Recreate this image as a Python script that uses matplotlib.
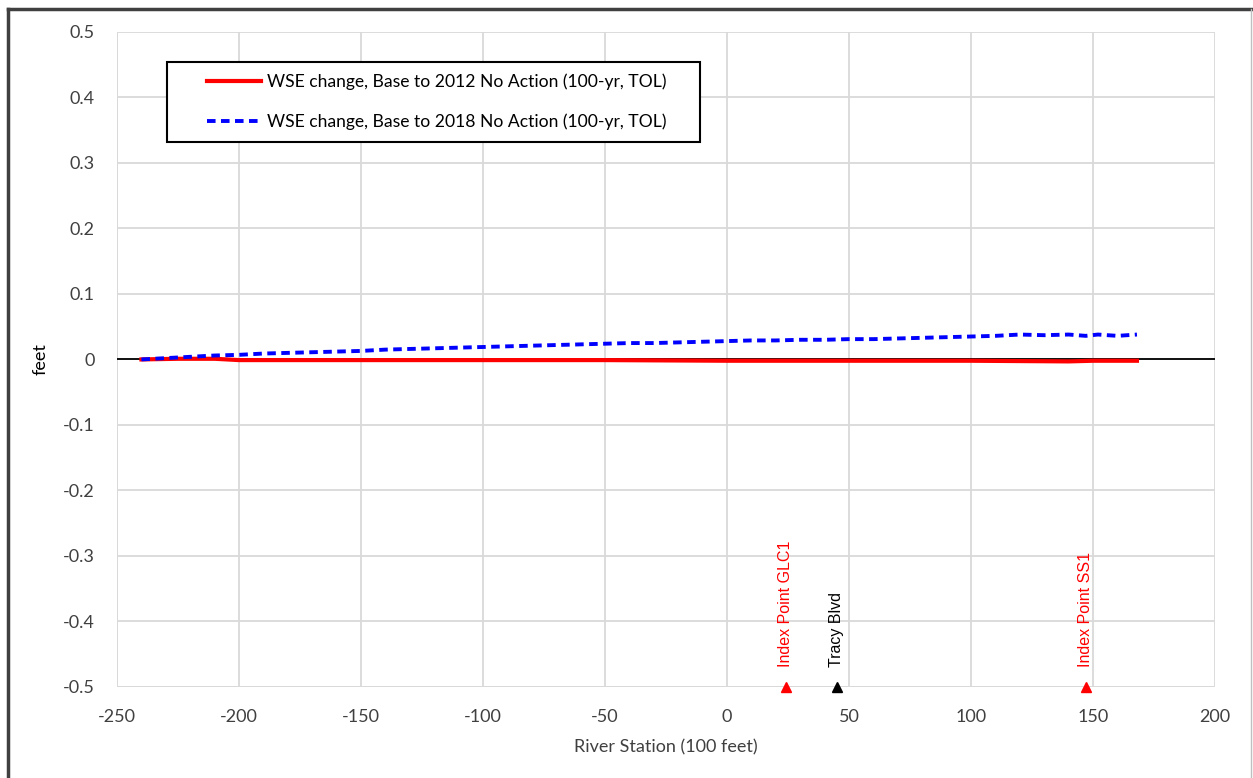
import matplotlib
matplotlib.use("Agg")
import matplotlib.pyplot as plt
from matplotlib.lines import Line2D
from matplotlib.patches import Rectangle

plt.rcParams['font.family'] = ['Lato', 'DejaVu Sans']
plt.rcParams['axes.unicode_minus'] = False

# River station (100 ft) and water surface elevation changes (ft)
station_2018 = [-240, -230, -220, -210, -200, -190, -180, -170, -160, -150, -140, -130,
                -120, -110, -100, -90, -80, -70, -60, -50, -40, -30, -20, -10, 0,
                10, 20, 30, 40, 50, 60, 70, 80, 90, 100, 110, 120, 130, 140, 147,
                152, 160, 168]
wse_2018 = [0.000, 0.002, 0.004, 0.006, 0.007, 0.009, 0.010, 0.011, 0.012, 0.013, 0.015, 0.016,
            0.017, 0.018, 0.019, 0.020, 0.021, 0.022, 0.023, 0.024, 0.025, 0.025, 0.026, 0.027, 0.028,
            0.029, 0.029, 0.030, 0.030, 0.031, 0.031, 0.032, 0.033, 0.034, 0.035, 0.036, 0.038,
            0.037, 0.038, 0.036, 0.038, 0.036, 0.038]

station_2012 = [-240, -225, -210, -200, -150, -100, -50, 0, 50, 100, 140, 150, 168]
wse_2012 = [0.000, 0.001, 0.001, -0.001, -0.001, -0.001, -0.001, -0.002, -0.002, -0.002,
            -0.003, -0.002, -0.002]

# Reference locations along the reach
marker_names = ["Index Point GLC1", "Tracy Blvd", "Index Point SS1"]
marker_station = [24, 45, 147]
marker_colors = ["red", "black", "red"]

label_2012 = "WSE change, Base to 2012 No Action (100-yr, TOL)"
label_2018 = "WSE change, Base to 2018 No Action (100-yr, TOL)"

fig = plt.figure(figsize=(12.53, 7.78), dpi=100)
ax = fig.add_axes([0.0934, 0.117, 0.8763, 0.842])

ax.set_xlim(-250, 200)
ax.set_ylim(-0.5, 0.5)
ax.set_xticks(range(-250, 201, 50))
ax.set_yticks([i / 10 for i in range(-5, 6)])
ax.set_yticklabels(["-0.5", "-0.4", "-0.3", "-0.2", "-0.1", "0", "0.1", "0.2", "0.3", "0.4", "0.5"])
ax.grid(True, color="#d9d9d9", linewidth=1.3)
ax.set_axisbelow(True)
for s in ax.spines.values():
    s.set_visible(False)
ax.tick_params(length=0, labelsize=13, colors="#404040")
ax.tick_params(axis='y', pad=16)
ax.tick_params(axis='x', pad=16)

ax.axhline(0, color="black", linewidth=1.3, zorder=2)
ax.axvline(-250, color="#d9d9d9", linewidth=1.3, zorder=1)
ax.axhline(-0.5, color="#d9d9d9", linewidth=1.3, zorder=1)

dash = (0, (2.2, 1.4))
ax.plot(station_2012, wse_2012, color="red", linewidth=3, zorder=3)
ax.plot(station_2018, wse_2018, color="blue", linewidth=2.8, linestyle=dash, zorder=4)

for name, st, c in zip(marker_names, marker_station, marker_colors):
    ax.plot([st], [-0.5], marker="^", color=c, markersize=7.5, clip_on=False, zorder=5)
    ax.text(st, -0.47, name, rotation=90, color=c, fontsize=11.5,
            family=["Liberation Sans", "DejaVu Sans"], ha="center", va="bottom")

ax.set_xlabel("River Station (100 feet)", fontsize=13, color="#404040", labelpad=10)
ax.set_ylabel("feet", fontsize=13, color="black", labelpad=10)

# Legend box with a separately drawn frame
ax.add_patch(Rectangle((0.0455, 0.832), 0.4855, 0.122, transform=ax.transAxes,
                       facecolor="white", edgecolor="black", linewidth=1.5, zorder=6))
handles = [Line2D([], [], color="red", linewidth=3),
           Line2D([], [], color="blue", linewidth=2.8, linestyle=dash)]
leg = ax.legend(handles, [label_2012, label_2018], loc="center left",
                bbox_to_anchor=(0.082, 0.893), fontsize=12.6, frameon=False,
                labelspacing=1.35, handlelength=3.1, handletextpad=0.35,
                borderaxespad=0, borderpad=0)
leg.set_zorder(7)

# Outer frame of the chart area
fig.add_artist(Line2D([0.0064, 0.0064], [0, 0.988], transform=fig.transFigure,
                      color="#404040", linewidth=2.5))
fig.add_artist(Line2D([0.0064, 1.0], [0.988, 0.988], transform=fig.transFigure,
                      color="#404040", linewidth=2.5))
fig.add_artist(Line2D([0.9985, 0.9985], [0, 0.988], transform=fig.transFigure,
                      color="#bfbfbf", linewidth=1))

fig.savefig("out.png", dpi=100)
